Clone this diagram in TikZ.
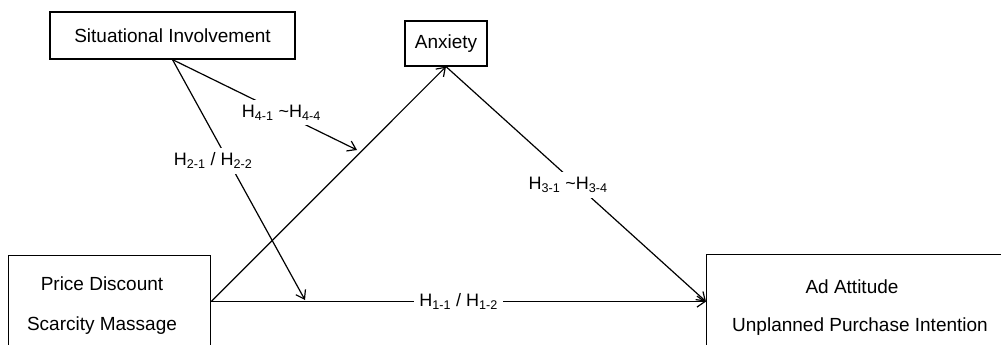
\documentclass[tikz,border=0pt]{standalone}
\usepackage{fontspec}
\setmainfont{Liberation Sans}
\usetikzlibrary{arrows.meta}
\begin{document}
\begin{tikzpicture}[
    x=1pt,y=-1pt,
    box/.style={draw,line width=1.2pt,inner sep=0pt,font=\fontsize{19}{23}\selectfont},
    txt/.style={anchor=base,inner sep=0pt,font=\fontsize{19}{23}\selectfont},
    hyp/.style={fill=white,inner sep=5pt,font=\fontsize{18}{22}\selectfont},
    link/.style={line width=1.2pt,-{Straight Barb[length=8pt,width=11pt]}}
]
\useasboundingbox (0,0) rectangle (1001,345);
\clip (0,0) rectangle (1001,345);

\node[box,minimum width=245pt,minimum height=47pt] (SI) at (172.5,35.5) {Situational Involvement};
\node[box,minimum width=82pt,minimum height=45pt]  (AX) at (446,43.5)   {Anxiety};
\node[box,anchor=north west,minimum width=202pt,minimum height=92pt] (PD) at (8,255)   {};
\node[box,anchor=north west,minimum width=300pt,minimum height=94pt] (AD) at (706,254) {};

\node[txt] (PD1) at (102,290.7) {Price Discount};
\node[txt] (PD2) at (102,330)   {Scarcity Massage};
\node[txt] (AD1) at (852,293)   {Ad Attitude};
\node[txt] (AD2) at (860,331.7) {Unplanned Purchase Intention};

\coordinate (M4) at (357,150);
\coordinate (M2) at (305,300);

\draw[link] (PD) -- node[hyp] {H\textsubscript{1-1} / H\textsubscript{1-2}} (AD);
\draw[link] (PD.east) -- (AX.south);
\draw[link] (AX.south) -- node[hyp,pos=0.47,yshift=-8pt] {H\textsubscript{3-1} \textasciitilde H\textsubscript{3-4}} (AD.west);
\draw[link] (SI.south) -- node[hyp,pos=0.59] {H\textsubscript{4-1} \textasciitilde H\textsubscript{4-4}} (M4);
\draw[link] (SI.south) -- node[hyp,pos=0.42,xshift=-15pt] {H\textsubscript{2-1} / H\textsubscript{2-2}} (M2);
\end{tikzpicture}
\end{document}
